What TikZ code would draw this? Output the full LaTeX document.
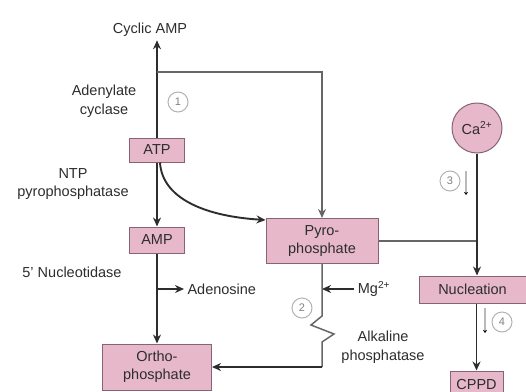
\documentclass[tikz,border=0pt]{standalone}
\usepackage{fontspec}
\setmainfont{Liberation Sans}
\usetikzlibrary{arrows.meta}

\definecolor{rose}{RGB}{230,184,202}
\definecolor{roseedge}{RGB}{135,100,115}
\definecolor{ink}{RGB}{45,45,45}

\begin{document}
\begin{tikzpicture}[x=1pt, y=-1pt, >={Stealth[length=9pt,width=8pt]},
    box/.style={draw=roseedge, fill=rose, line width=1pt, inner sep=0pt,
                align=center, text=ink, font=\fontsize{14.5}{18}\selectfont},
    lbl/.style={align=center, text=ink, font=\fontsize{14.5}{18.5}\selectfont},
    num/.style={circle, draw=gray!60, line width=1pt, minimum size=20pt,
                inner sep=0pt, text=gray, font=\fontsize{11}{11}\selectfont},
    flow/.style={draw=ink, line width=1.9pt},
    link/.style={draw=gray!80!black, line width=1.5pt},
    hint/.style={draw=gray!55, line width=1.4pt, -{Stealth[length=3pt,width=4pt,black]}}]
  \useasboundingbox (0,0) rectangle (526,391);

  % substrates and products
  \node[lbl] (camp) at (150,30) {Cyclic AMP};
  \node[box, minimum width=55pt, minimum height=24pt] (atp) at (157,150) {ATP};
  \node[box, minimum width=55pt, minimum height=26pt] (amp) at (157,240) {AMP};
  \node[box, minimum width=109pt, minimum height=46pt] (ortho) at (157,367) {Ortho-\\phosphate};
  \node[box, minimum width=112pt, minimum height=45pt] (pyro) at (322,241) {Pyro-\\phosphate};
  \node[box, minimum width=107pt, minimum height=27pt] (nuc) at (472.5,289.5) {Nucleation};
  \node[box, minimum width=53pt, minimum height=26pt] (cppd) at (476.5,384) {CPPD};
  \node[box, circle, minimum size=50pt] (ca) at (477,128) {Ca\textsuperscript{2+}};

  % enzymes
  \node[lbl] (adcyc) at (104,101) {Adenylate\\cyclase};
  \node[lbl] (ntp) at (73,184) {NTP\\pyrophosphatase};
  \node[lbl] (nucl) at (72,272) {5' Nucleotidase};
  \node[lbl] (alk) at (383,347) {Alkaline\\phosphatase};
  \node[lbl, anchor=west] (ado) at (184,289) {Adenosine};
  \node[lbl] (mg) at (374,289) {Mg\textsuperscript{2+}};

  \node[num] (n1) at (178,102) {1};
  \node[num] (n2) at (302,308) {2};
  \node[num] (n3) at (450,181) {3};
  \node[num] (n4) at (502,322) {4};

  % main chain
  \draw[flow,->] (atp.north) -- (atp.north |- camp.south);
  \coordinate (fork) at (157,72);
  \draw[link,->] (fork) -| (pyro.north);
  \draw[flow,->] (atp) -- (amp);
  \draw[flow,->] (amp) -- (ortho);
  \draw[flow,->] ([xshift=3pt]atp.south) .. controls (162,197) and (202,216) .. ([yshift=-2pt]pyro.north west);
  \draw[flow,->] (amp.south |- ado.west) -- (ado.west);

  % pyrophosphate breakdown
  \draw[flow,->] (mg.west) -- (mg.west -| pyro.south);
  \draw[link] (pyro.south) -- ++(0,52) -- ++(-11,9) -- ++(23,9) -- ++(-12,8) -- ++(0,25) coordinate (bend);
  \draw[flow,->] (bend) -- (ortho.east);

  % crystal formation
  \draw[link] (pyro.east) -- (pyro.east -| ca.south);
  \draw[flow,->] (ca.south) -- (ca.south |- nuc.north);
  \draw[flow,->] (nuc.south -| cppd.north) -- (cppd.north);

  \draw[hint] (466,171) -- (466,195);
  \draw[hint] (485,308) -- (485,333);
\end{tikzpicture}
\end{document}
